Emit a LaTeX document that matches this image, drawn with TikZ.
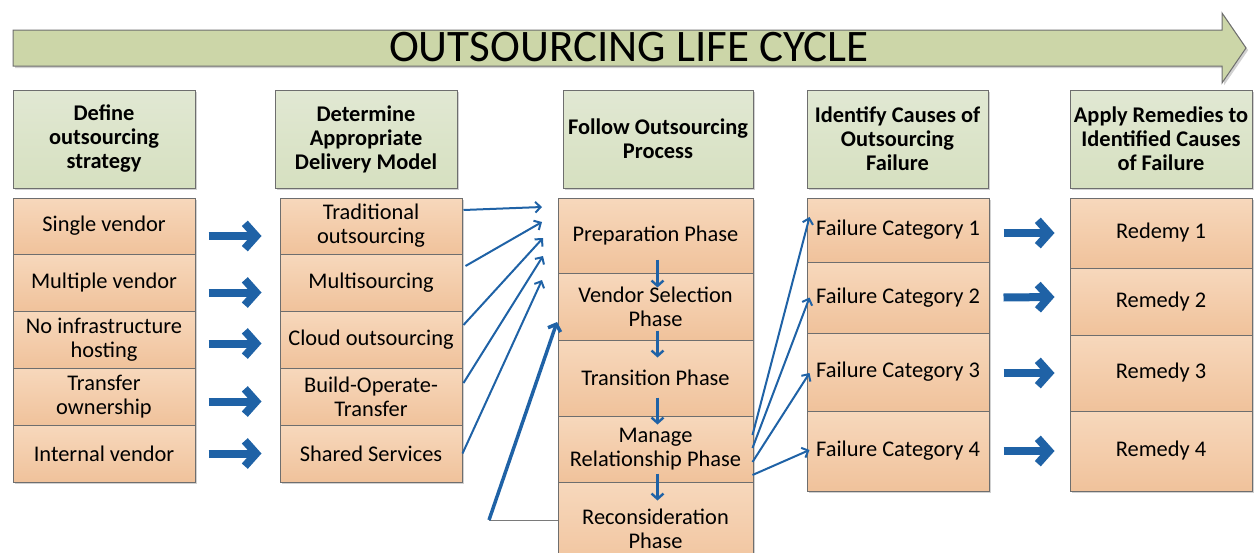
\documentclass[tikz,border=0pt]{standalone}
\usepackage{fontspec}
\setmainfont{Carlito}
\usetikzlibrary{arrows.meta,calc,shadows}
\definecolor{boxline}{HTML}{6E6E6E}
\definecolor{hdrtop}{HTML}{E1E8D3}
\definecolor{hdrbot}{HTML}{D6E0C0}
\definecolor{bandfill}{HTML}{CCD6A8}
\definecolor{itemtop}{HTML}{F7D8BC}
\definecolor{itembot}{HTML}{F0C29B}
\definecolor{arrowblue}{HTML}{1F62A6}
\definecolor{linkgray}{HTML}{7A7A7A}
\begin{document}
\begin{tikzpicture}[x=0.75pt,y=-0.75pt,
  sz/.style 2 args={minimum width=#1*0.75pt, minimum height=#2*0.75pt},
  box/.style={draw=boxline, line width=0.75pt, inner sep=0pt, align=center,
    font=\fontsize{16.8}{18}\selectfont,
    drop shadow={shadow xshift=1.6pt, shadow yshift=-1.6pt, opacity=0.3, fill=black!60}},
  hdr/.style={box, top color=hdrtop, bottom color=hdrbot,
    font=\bfseries\fontsize{16.8}{18}\selectfont},
  item/.style={box, top color=itemtop, bottom color=itembot},
  fat/.style={draw=arrowblue, line width=6pt,
    -{Straight Barb[length=8.5pt, width=19pt]}},
  thin/.style={draw=arrowblue, line width=1.5pt,
    -{Straight Barb[length=4pt, width=8pt]}},
  down/.style={draw=arrowblue, line width=1.8pt,
    -{Straight Barb[length=4pt, width=9pt]}},
]
\useasboundingbox (0,0) rectangle (1256,553);
\clip (0,0) rectangle (1256,553);

% life-cycle band
\filldraw[draw=boxline, line width=0.75pt, fill=bandfill,
  drop shadow={shadow xshift=1.6pt, shadow yshift=-1.6pt, opacity=0.3, fill=black!60}]
  (13,30) -- (1222,30) -- (1222,13) -- (1246,48) -- (1222,83) -- (1222,66) -- (13,66) -- cycle;
\node (title) at (629,47) {\fontsize{33.8}{38}\selectfont OUTSOURCING LIFE CYCLE};

% column headers
\node[hdr, sz={182}{98}] (h1) at (104,139) {Define\\outsourcing\\strategy};
\node[hdr, sz={182}{98}] (h2) at (366,139) {Determine\\Appropriate\\Delivery Model};
\node[hdr, sz={190}{98}] (h3) at (658,139) {Follow Outsourcing\\Process};
\node[hdr, sz={181}{98}] (h4) at (897.5,139) {Identify Causes of\\Outsourcing\\Failure};
\node[hdr, sz={182}{98}] (h5) at (1161,139) {Apply Remedies to\\Identified Causes\\of Failure};

% strategies
\node[item, sz={182}{56}] (s1) at (104,226) {Single vendor};
\node[item, sz={182}{57}] (s2) at (104,282.5) {Multiple vendor};
\node[item, sz={182}{57}] (s3) at (104,339.5) {No infrastructure\\hosting};
\node[item, sz={182}{57}] (s4) at (104,396.5) {Transfer\\ownership};
\node[item, sz={182}{57}] (s5) at (104,453.5) {Internal vendor};

% delivery models
\node[item, sz={182}{56}] (m1) at (371,226) {Traditional\\outsourcing};
\node[item, sz={182}{57}] (m2) at (371,282.5) {Multisourcing};
\node[item, sz={182}{57}] (m3) at (371,339.5) {Cloud outsourcing};
\node[item, sz={182}{57}] (m4) at (371,396.5) {Build-Operate-\\Transfer};
\node[item, sz={182}{57}] (m5) at (371,453.5) {Shared Services};

% process phases
\node[item, sz={195}{75}] (p1) at (655.5,235.5) {\raisebox{-3pt}{Preparation Phase}};
\node[item, sz={195}{67}] (p2) at (655.5,306.5) {Vendor Selection\\Phase};
\node[item, sz={195}{76}] (p3) at (655.5,378) {Transition Phase};
\node[item, sz={195}{66}] (p4) at (655.5,449) {Manage\\Relationship Phase};
\node[item, sz={195}{94}] (p5) at (655.5,529) {Reconsideration\\Phase};

% failure categories
\node[item, sz={182}{64}] (f1) at (898,230) {Failure Category 1};
\node[item, sz={182}{71}] (f2) at (898,297.5) {Failure Category 2};
\node[item, sz={182}{78}] (f3) at (898,372) {Failure Category 3};
\node[item, sz={182}{80}] (f4) at (898,451) {Failure Category 4};

% remedies
\node[item, sz={182}{70}] (r1) at (1161,233) {Redemy 1};
\node[item, sz={182}{67}] (r2) at (1161,301.5) {Remedy 2};
\node[item, sz={182}{76}] (r3) at (1161,373) {Remedy 3};
\node[item, sz={182}{80}] (r4) at (1161,451) {Remedy 4};

% strategy -> delivery model
\draw[fat] ($(s1.east)+(13,10)$) -- ($(m1.west)+(-18,10)$);
\draw[fat] ($(s2.east)+(13,10)$) -- ($(m2.west)+(-18,10)$);
\draw[fat] ($(s3.east)+(13,4)$) -- ($(m3.west)+(-18,4)$);
\draw[fat] ($(s4.east)+(13,5)$) -- ($(m4.west)+(-18,5)$);
\draw[fat] ($(s5.east)+(13,0)$) -- ($(m5.west)+(-18,0)$);

% delivery model -> process
\coordinate (t1) at (542,207);
\coordinate (t2) at (542,222);
\coordinate (t3) at (543,238);
\coordinate (t4) at (543,256);
\coordinate (t5) at (542,280);
\draw[thin] ($(m1.east)+(1,-16)$) -- (t1);
\draw[thin] ($(m2.east)+(3,-16.5)$) -- (t2);
\draw[thin] ($(m3.east)+(1,-14.5)$) -- (t3);
\draw[thin] ($(m4.east)+(1,-13.5)$) -- (t4);
\draw[thin] (m5.east) -- (t5);

% phase sequence
\draw[down] ($(p1.south)+(2,-14)$) -- ($(p2.north)+(2,15)$);
\draw[down] ($(p2.south)+(2,-10)$) -- ($(p3.north)+(2,18)$);
\draw[down] ($(p3.south)+(2,-19)$) -- ($(p4.north)+(2,9)$);
\draw[down] ($(p4.south)+(2,-9)$) -- ($(p5.north)+(2,19)$);

% reconsideration loops back
\coordinate (fb) at (489,520);
\coordinate (t6) at (557,322);
\draw[linkgray, line width=0.75pt] ($(p5.west)+(0,-9)$) -- (fb);
\draw[draw=arrowblue, line width=2.6pt, -{Straight Barb[length=4.5pt, width=10pt]}] (fb) -- (t6);

% relationship -> failure categories
\draw[thin] ($(p4.east)+(-1,-14)$) -- ($(f1.west)+(3,-13)$);
\draw[thin] ($(p4.east)+(-1,-1)$) -- ($(f2.west)+(3,0)$);
\draw[thin] ($(p4.east)+(-1,13)$) -- ($(f3.west)+(3,1)$);
\draw[thin] ($(p4.east)+(-1,26)$) -- ($(f4.west)+(3,-1)$);

% failure -> remedy
\draw[fat] ($(f1.east)+(14,3)$) -- ($(r1.west)+(-15,0)$);
\draw[fat] ($(f2.east)+(14,0)$) -- ($(r2.west)+(-15,-4.5)$);
\draw[fat] ($(f3.east)+(14,1)$) -- ($(r3.west)+(-15,0)$);
\draw[fat] ($(f4.east)+(14,0)$) -- ($(r4.west)+(-15,0)$);
\end{tikzpicture}
\end{document}
